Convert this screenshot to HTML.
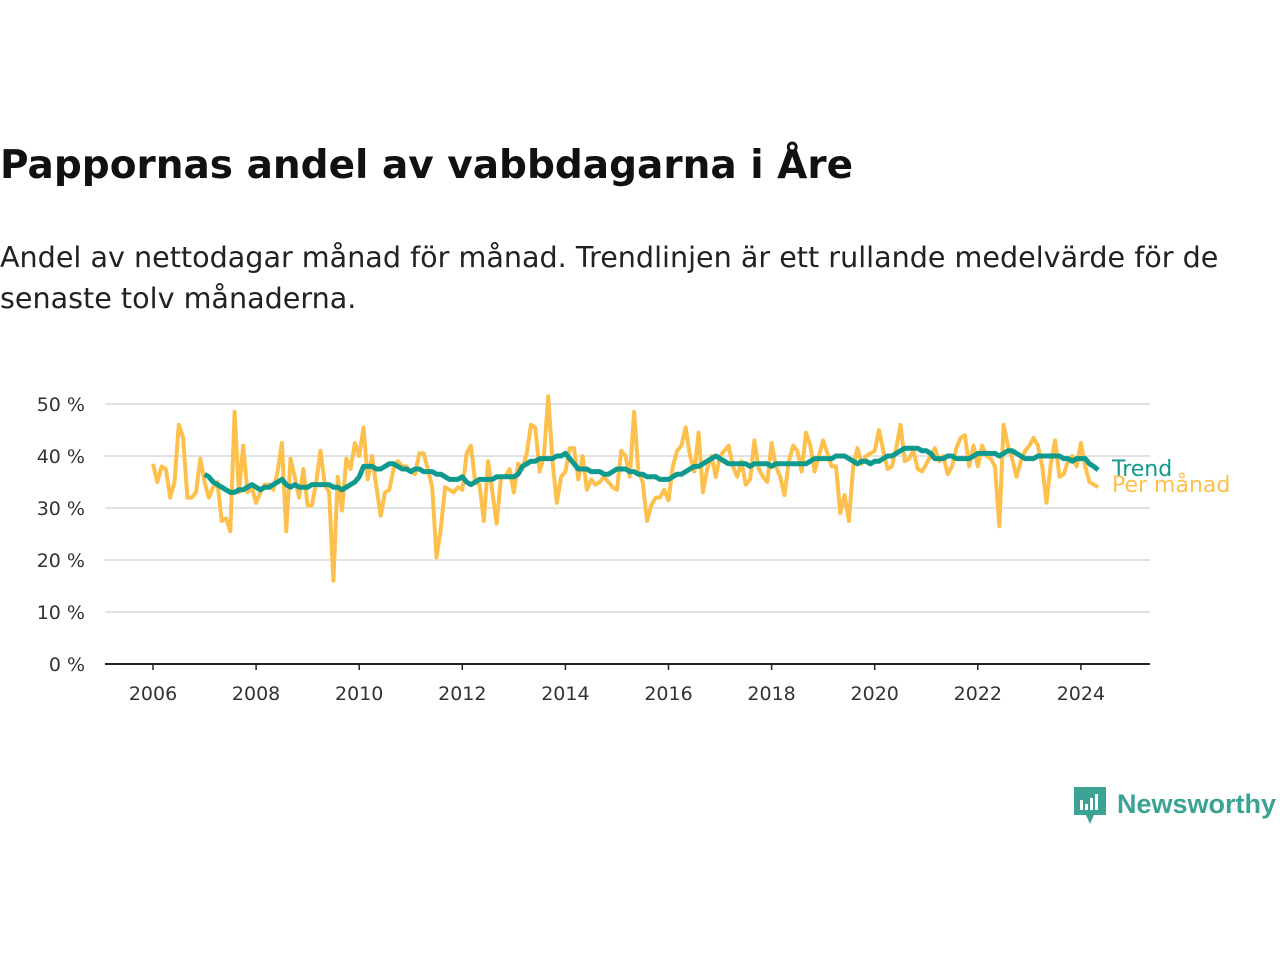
<!DOCTYPE html>
<html><head><meta charset="utf-8">
<style>
body{margin:0;width:1280px;height:960px;background:#fff;font-family:"DejaVu Sans","Liberation Sans",sans-serif;position:relative;overflow:hidden}
h1{position:absolute;left:0;top:143px;margin:0;font-size:39px;font-weight:bold;color:#111;letter-spacing:0}
.sub{position:absolute;left:0;top:237px;margin:0;font-size:28.6px;line-height:41px;color:#222;width:1270px}
svg{position:absolute;left:0;top:0}
</style></head><body>
<h1>Pappornas andel av vabbdagarna i Åre</h1>
<p class="sub">Andel av nettodagar månad för månad. Trendlinjen är ett rullande medelvärde för de senaste tolv månaderna.</p>
<svg id="chart" width="1280" height="960"></svg>
<script>
const monthly = [
38.5,35,38,37.5,32,35,46,43.5,32,32,33,39.5,
35,32,34,35,27.5,28,25.5,48.5,33,42,33,34,
31,33,34.5,34.5,33.5,37,42.5,25.5,39.5,36,32,37.5,
30.5,30.5,35,41,34.5,33,16,36,29.5,39.5,37.5,42.5,
40,45.5,35.5,40,34,28.5,33,33.5,37.5,39,38,38,
37,36.5,40.5,40.5,37.5,34,20.5,26,34,33.5,33,34,
33.5,40.5,42,35,34.5,27.5,39,33,27,36,36,37.5,
33,38.5,37.5,40.5,46,45.5,37,40,51.5,39,31,36,
37,41.5,41.5,35.5,40,33.5,35.5,34.5,35,36,35,34,
33.5,41,40,36,48.5,37,35,27.5,30.5,32,32,33.5,
31.5,38,41,42,45.5,40,37,44.5,33,37.5,40,36,
40,41,42,38,36,39,34.5,35.5,43,37.5,36,35,
42.5,38,36,32.5,39,42,41,37,44.5,42,37,40,
43,40.5,38,38,29,32.5,27.5,38,41.5,38.5,40,40.5,
41,45,41,37.5,38,41.5,46,39,39.5,41,37.5,37,
38.5,40,41.5,39,40,36.5,38,41.5,43.5,44,38,42,
38,42,40,39.5,38,26.5,46,42,39.5,36,39,41,
42,43.5,42,38,31,38.5,43,36,36.5,39,40,38,
42.5,38,35,34.5,34];
const trend = [
36.5,36,35,34.5,34,33.5,33,33,33.5,33.5,34,34.5,
34,33.5,34,34,34.5,35,35.5,34.5,34,34.5,34,34,
34,34.5,34.5,34.5,34.5,34.5,34,34,33.5,34,34.5,35,
36,38,38,38,37.5,37.5,38,38.5,38.5,38,37.5,37.5,
37,37.5,37.5,37,37,37,36.5,36.5,36,35.5,35.5,35.5,
36,35,34.5,35,35.5,35.5,35.5,35.5,36,36,36,36,
36,36.5,38,38.5,39,39,39.5,39.5,39.5,39.5,40,40,
40.5,39.5,38.5,37.5,37.5,37.5,37,37,37,36.5,36.5,37,
37.5,37.5,37.5,37,37,36.5,36.5,36,36,36,35.5,35.5,
35.5,36,36.5,36.5,37,37.5,38,38,38.5,39,39.5,40,
39.5,39,38.5,38.5,38.5,38.5,38.5,38,38.5,38.5,38.5,38.5,
38,38.5,38.5,38.5,38.5,38.5,38.5,38.5,38.5,39,39.5,39.5,
39.5,39.5,39.5,40,40,40,39.5,39,38.5,39,39,38.5,
39,39,39.5,40,40,40.5,41,41.5,41.5,41.5,41.5,41,
41,40.5,39.5,39.5,39.5,40,40,39.5,39.5,39.5,39.5,40,
40.5,40.5,40.5,40.5,40.5,40,40.5,41,41,40.5,40,39.5,
39.5,39.5,40,40,40,40,40,40,39.5,39.5,39,39.5,
39.5,39.5,38.5,38,37.3];
const yTicks = [0,10,20,30,40,50];
const xTicks = [2006,2008,2010,2012,2014,2016,2018,2020,2022,2024];
const startYear = 2006, trendStartYear = 2007;

const NS='http://www.w3.org/2000/svg';
const svg=document.getElementById('chart');
const X=t=>153+(t-2006)*51.55;
const Y=v=>664-v*5.2;
function el(tag,attrs,parent){const e=document.createElementNS(NS,tag);for(const k in attrs)e.setAttribute(k,attrs[k]);(parent||svg).appendChild(e);return e;}
yTicks.forEach(v=>{
  if(v>0){const g=el('line',{x1:105,x2:1150,y1:Y(v),y2:Y(v),stroke:'#d9d9d9','stroke-width':1.5});
  
  }
  const t=el('text',{x:85,y:Y(v)+7,'text-anchor':'end','font-size':19,fill:'#333'});
  t.textContent=v+' %';
  
  
});
const ax=el('line',{x1:105,x2:1150,y1:664,y2:664,stroke:'#222','stroke-width':2});


xTicks.forEach(yr=>{
  const tk=el('line',{x1:X(yr),x2:X(yr),y1:664,y2:670,stroke:'#222','stroke-width':1.5});
  
  
  const t=el('text',{x:X(yr),y:700,'text-anchor':'middle','font-size':19,fill:'#333'});
  t.textContent=yr;
  
  
});
const mp=monthly.map((v,i)=>X(startYear+i/12).toFixed(1)+','+Y(v).toFixed(1)).join(' ');
const ml=el('polyline',{points:mp,fill:'none',stroke:'#fec04c','stroke-width':4,'stroke-linejoin':'round'});


const tp=trend.map((v,i)=>X(trendStartYear+i/12).toFixed(1)+','+Y(v).toFixed(1)).join(' ');
const tl=el('polyline',{points:tp,fill:'none',stroke:'#0f9a8d','stroke-width':5,'stroke-linejoin':'round'});


const lt=el('text',{x:1112,y:476,'font-size':22,fill:'#0f9a8d'});
lt.textContent='Trend';


const lm=el('text',{x:1112,y:492,'font-size':22,fill:'#fec04c'});
lm.textContent='Per månad';


</script>
<div style="position:absolute;left:1073px;top:786px;height:40px;display:flex;align-items:center">
 <svg width="34" height="40" viewBox="0 0 34 40" style="position:static">
  <path d="M1 1h32v28H21l-4 9-4-9H1z" fill="#3aa394"/>
  <rect x="7" y="14" width="3" height="10" fill="#fff"/><rect x="12" y="18" width="3" height="6" fill="#fff"/><rect x="17" y="12" width="3" height="12" fill="#fff"/><rect x="22" y="8" width="3" height="16" fill="#fff"/>
 </svg>
 <span style="font-family:'Liberation Sans',sans-serif;font-size:27px;font-weight:bold;color:#3aa394;margin-left:10px;margin-top:-4px">Newsworthy</span>
</div>
</body></html>
